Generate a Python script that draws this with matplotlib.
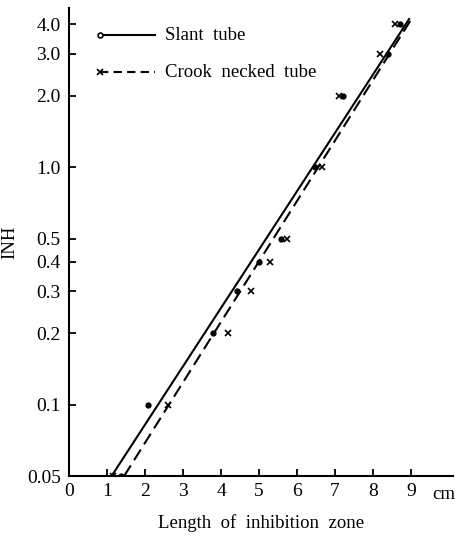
import matplotlib
matplotlib.use("Agg")
import matplotlib.pyplot as plt
from matplotlib.ticker import FixedLocator, NullLocator

# measured points (length in cm, INH)
slant_x = [1.36, 2.09, 3.78, 4.41, 5.01, 5.57, 6.47, 7.22, 8.40, 8.71]
slant_y = [0.05, 0.1, 0.2, 0.3, 0.4, 0.5, 1.0, 2.0, 3.0, 4.0]
crook_x = [1.15, 2.60, 4.18, 4.78, 5.29, 5.73, 6.65, 7.11, 8.18, 8.58]
crook_y = [0.05, 0.1, 0.2, 0.3, 0.4, 0.5, 1.0, 2.0, 3.0, 4.0]

# fitted lines (end points)
slant_fit_x = [1.12, 8.95]
slant_fit_y = [0.05, 4.2]
crook_fit_x = [1.45, 9.05]
crook_fit_y = [0.05, 4.3]

x_ticks = [0, 1, 2, 3, 4, 5, 6, 7, 8, 9]
y_ticks = [0.05, 0.1, 0.2, 0.3, 0.4, 0.5, 1.0, 2.0, 3.0, 4.0]
y_labels = ["0.05", "0.1", "0.2", "0.3", "0.4", "0.5", "1.0", "2.0", "3.0", "4.0"]
series_names = ["Slant  tube", "Crook  necked  tube"]

plt.rcParams["font.family"] = ["Liberation Serif", "DejaVu Serif"]

fig = plt.figure(figsize=(4.58, 5.36), dpi=100)
ax = fig.add_axes([0.1507, 0.1119, 0.838, 0.873])

ax.plot(slant_fit_x, slant_fit_y, color="black", lw=1.5)
ax.plot(crook_fit_x, crook_fit_y, color="black", lw=1.5, dashes=(6, 3))
ax.plot(slant_x, slant_y, "o", color="black", ms=3.5, ls="none")
ax.plot(crook_x, crook_y, "x", color="black", ms=4, mew=1.2, ls="none")

ax.set_yscale("log")
ax.set_xlim(0, 10.1)
ax.set_ylim(0.05, 4.67)
ax.xaxis.set_major_locator(FixedLocator(x_ticks))
ax.yaxis.set_major_locator(FixedLocator(y_ticks))
ax.yaxis.set_minor_locator(NullLocator())
ax.set_yticklabels(y_labels)
ax.set_xticklabels([str(t) for t in x_ticks])

for s in ["top", "right"]:
    ax.spines[s].set_visible(False)
for s in ["left", "bottom"]:
    ax.spines[s].set_linewidth(1.5)

ax.tick_params(direction="in", length=5, width=1.3, labelsize=14, pad=6)
ax.tick_params(axis="x", pad=5)

ax.text(9.55, 0.0455, "cm", fontsize=13.5, ha="left", va="top", clip_on=False)

ax.set_xlabel("Length  of  inhibition  zone", fontsize=13.5, labelpad=10)
ax.set_ylabel("INH", fontsize=13.5, labelpad=6)

# hand-drawn legend in axes coordinates
tr = ax.transAxes
ax.plot([0.081, 0.224], [0.942, 0.942], color="black", lw=1.5, transform=tr)
ax.plot([0.081], [0.942], "o", ms=3.5, mfc="white", mec="black", mew=1.2,
        transform=tr)
ax.text(0.25, 0.942, series_names[0], fontsize=13.5, va="center", transform=tr)
ax.plot([0.081, 0.224], [0.863, 0.863], color="black", lw=1.5, dashes=(4, 2.5),
        transform=tr)
ax.plot([0.081], [0.863], "x", ms=4, mew=1.2, color="black", transform=tr)
ax.text(0.25, 0.863, series_names[1], fontsize=13.5, va="center", transform=tr)

fig.savefig("out.png", dpi=100)
